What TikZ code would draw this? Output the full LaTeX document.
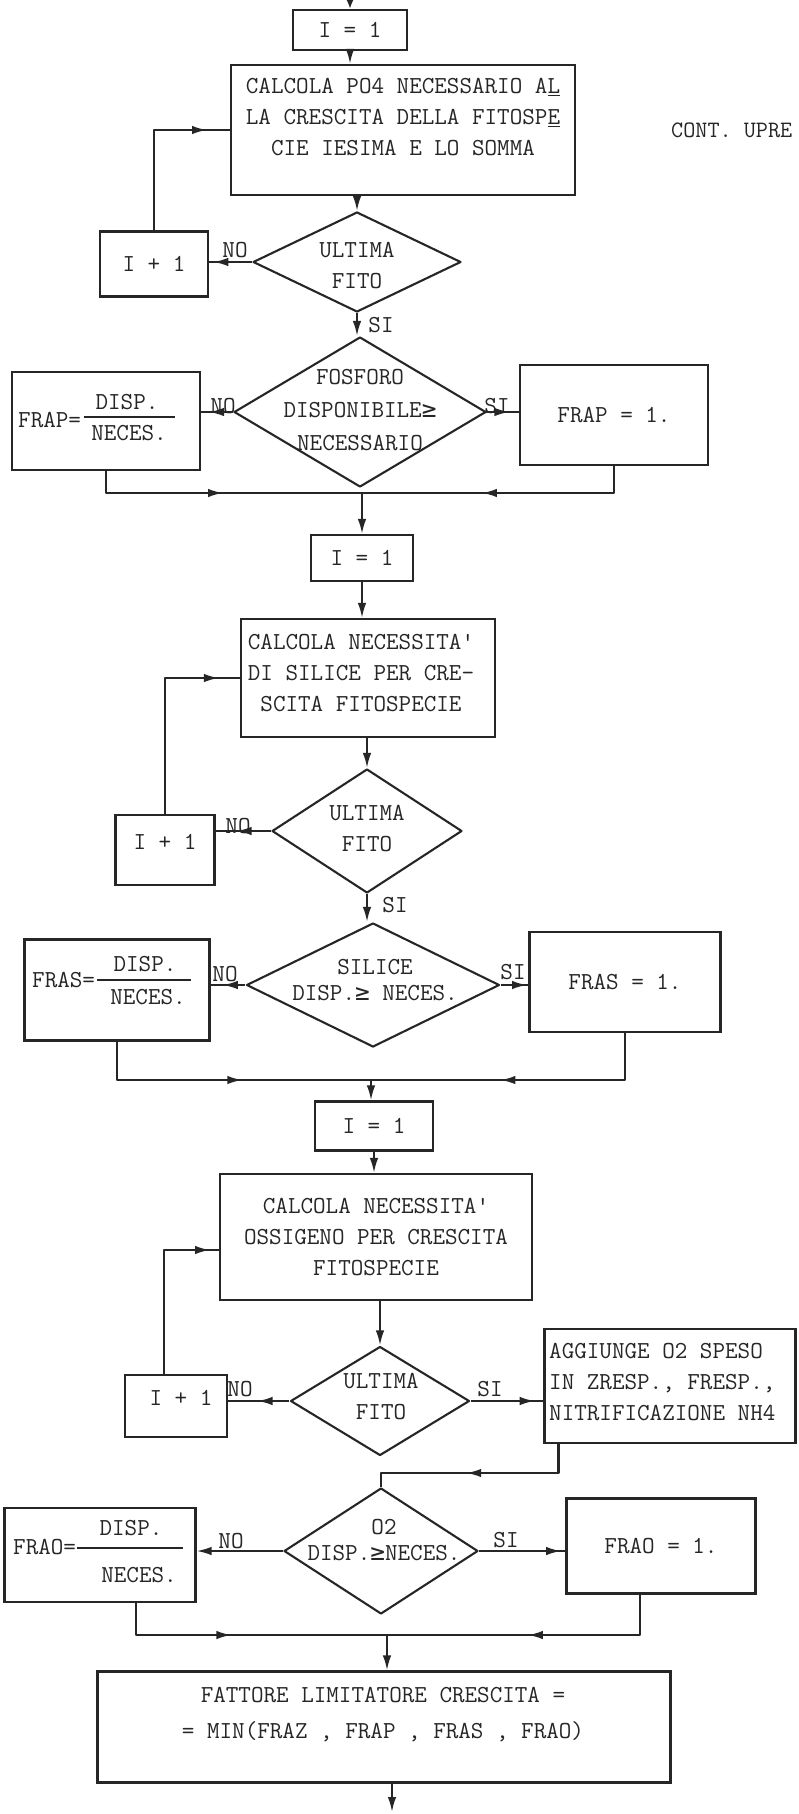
\documentclass[tikz,border=0pt]{standalone}
\usepackage{fontspec}
\newfontfamily\symf{DejaVu Sans Mono}
\usetikzlibrary{shapes.geometric,arrows.meta,decorations.markings,calc}
\newcommand\gesym{{\symf ≥}}
\tikzset{
  ln/.style={draw=black!85, line width=2.1pt},
  boxn/.style={ln, rectangle, inner sep=0pt, align=center, text=black!85},
  dia/.style={ln, diamond, inner sep=0pt, line join=round},
  txt/.style={text=black!85, inner sep=0pt, align=center},
  conn/.style={ln, line join=round},
  arr/.style={conn, -{Latex[length=15pt,width=8.5pt]}},
  smallarr/.style={conn, -{Latex[length=9pt,width=7pt]}},
  marr/.style={conn, postaction={decorate}, decoration={markings, mark=at position #1 with {\arrow{Latex[length=15pt,width=8.5pt]}}}},
}
\begin{document}
\begin{tikzpicture}[x=1pt,y=-1pt, font=\ttfamily\fontsize{24.4}{31}\selectfont]
\fill[white] (0,0) rectangle (798,1814);
\useasboundingbox (0,0) rectangle (798,1814);

% ---------- section 1 : PO4 ----------
\coordinate (top) at (350,0);
\node[boxn, minimum width=114pt, minimum height=40pt] (A1) at (350,30) {I = 1};
\draw[smallarr] (top) -- (A1.north);
\node[boxn, minimum width=344pt, minimum height=130pt] (C1) at (403,130) {};
\node[txt] (C1t) at (403,117) {CALCOLA PO4 NECESSARIO A\underline{L}\\LA CRESCITA DELLA FITOSP\underline{E}\\CIE IESIMA E LO SOMMA};
\draw[arr] (A1.south) -- (A1.south |- C1.north);
\node[txt, anchor=west, font=\ttfamily\fontsize{23.5}{31}\selectfont] (cont) at (671,130) {CONT. UPRE};

\node[dia, minimum width=208pt, minimum height=100pt] (D1) at (357,262) {};
\node[txt] (D1t) at (357,266) {ULTIMA\\FITO};
\draw[arr] (D1.north |- C1.south) -- (D1.north);
\node[boxn, minimum width=108pt, minimum height=65pt] (B1) at (154,264) {I + 1};
\node[txt] (no1) at (235,250) {NO};
\draw[marr=0.87] (B1.north) |- (C1.west);
\draw[marr=0.9] (D1.west) -- (D1.west -| B1.east);

\node[txt] (si1) at (381,325) {SI};
\node[dia, minimum width=252pt, minimum height=150pt] (D2) at (360,412) {};
\draw[arr] (D1.south) -- (D1.south |- D2.north);
\node[txt, font=\ttfamily\fontsize{24.4}{33}\selectfont] (D2t) at (360,410) {FOSFORO\\DISPONIBILE\gesym\\NECESSARIO};

\node[boxn, minimum width=188pt, minimum height=98pt] (F1) at (106,421) {};
\node[txt, anchor=west] (F1a) at (18,420) {FRAP=};
\draw[conn] (84,417) -- (175,417);
\node[txt] (F1n) at (127,402) {DISP.};
\node[txt] (F1d) at (129,433) {NECES.};
\node[txt] (no2) at (223,406) {NO};
\draw[marr=0.75] (D2.west) -- (D2.west -| F1.east);

\node[boxn, minimum width=188pt, minimum height=100pt] (P1) at (614,415) {FRAP = 1.};
\node[txt] (si2) at (497,406) {SI};
\draw[marr=0.7] (D2.east) -- (D2.east -| P1.west);

\coordinate (M1) at (362,493);
\draw[marr=0.5] (F1.south) |- (M1);
\draw[marr=0.57] (P1.south) |- (M1);

% ---------- section 2 : silice ----------
\node[boxn, minimum width=102pt, minimum height=46pt] (A2) at (362,558) {I = 1};
\draw[arr] (M1) -- (A2.north);
\node[boxn, minimum width=254pt, minimum height=118pt] (C2) at (368,678) {};
\node[txt] (C2t) at (361,673) {CALCOLA NECESSITA\textquotesingle\\DI SILICE PER CRE-\\SCITA FITOSPECIE};
\draw[arr] (A2.south) -- (A2.south |- C2.north);

\node[dia, minimum width=190pt, minimum height=124pt] (D3) at (367,831) {};
\node[txt] (D3t) at (367,829) {ULTIMA\\FITO};
\draw[arr] (D3.north |- C2.south) -- (D3.north);
\node[boxn, minimum width=99pt, minimum height=70pt] (B2) at (165,850) {};
\node[txt] (B2t) at (165,842) {I + 1};
\draw[marr=0.9] (B2.north) |- (C2.west);
\node[txt] (no3) at (238,826) {NO};
\draw[marr=0.62] (D3.west) -- (D3.west -| B2.east);

\node[txt] (si3) at (395,905) {SI};
\node[dia, minimum width=253pt, minimum height=124pt] (D4) at (373,985) {};
\draw[arr] (D3.south) -- (D3.south |- D4.north);
\node[txt, font=\ttfamily\fontsize{24.4}{26}\selectfont] (D4t) at (375,980) {SILICE\\DISP.\gesym\ NECES.};

\node[boxn, minimum width=185pt, minimum height=101pt] (F2) at (117,990) {};
\node[txt, anchor=west] (F2a) at (32,980) {FRAS=};
\draw[conn] (97,980) -- (191,980);
\node[txt] (F2n) at (145,964) {DISP.};
\node[txt] (F2d) at (148,997) {NECES.};
\node[txt] (no4) at (225,974) {NO};
\draw[marr=0.65] (D4.west) -- (D4.west -| F2.east);

\node[boxn, minimum width=191pt, minimum height=100pt] (P2) at (625,982) {FRAS = 1.};
\node[txt] (si4) at (513,972) {SI};
\draw[marr=0.95] (D4.east) -- (D4.east -| P2.west);

\coordinate (M2) at (371,1080);
\draw[marr=0.56] (F2.south) |- (M2);
\draw[marr=0.57] (P2.south) |- (M2);

% ---------- section 3 : ossigeno ----------
\node[boxn, minimum width=118pt, minimum height=49pt] (A3) at (374,1126) {I = 1};
\draw[arr] (M2) -- (M2 |- A3.north);
\node[boxn, minimum width=312pt, minimum height=126pt] (C3) at (376,1237) {CALCOLA NECESSITA\textquotesingle\\OSSIGENO PER CRESCITA\\FITOSPECIE};
\draw[arr] (A3.south) -- (A3.south |- C3.north);

\node[dia, minimum width=179pt, minimum height=109pt] (D5) at (380,1401) {};
\node[txt] (D5t) at (381,1397) {ULTIMA\\FITO};
\draw[arr] (D5.north |- C3.south) -- (D5.north);
\node[boxn, minimum width=102pt, minimum height=62pt] (B3) at (176,1406) {};
\node[txt] (B3t) at (181,1398) {I + 1};
\draw[marr=0.95] ([xshift=-12pt]B3.north) |- ([yshift=-13pt]C3.west);
\node[txt] (no5) at (240,1389) {NO};
\draw[marr=0.52] (D5.west) -- (D5.west -| B3.east);

\node[boxn, minimum width=251pt, minimum height=114pt] (G) at (670,1386) {};
\node[txt, anchor=west, align=left] (Gt) at (549,1382) {AGGIUNGE O2 SPESO\\IN ZRESP., FRESP.,\\NITRIFICAZIONE NH4};
\node[txt] (si5) at (490,1389) {SI};
\draw[marr=0.88] (D5.east) -- (D5.east -| G.west);

\coordinate (K) at (381,1473);
\node[dia, minimum width=194pt, minimum height=126pt] (D6) at (381,1551) {};
\draw[marr=0.55] ([xshift=15pt]G.south west) |- (K) -- (D6.north);
\node[txt, font=\ttfamily\fontsize{24.4}{26}\selectfont] (D6t) at (384,1540) {O2\\DISP.\gesym NECES.};

\node[boxn, minimum width=191pt, minimum height=94pt] (F3) at (100,1555) {};
\node[txt, anchor=west] (F3a) at (13,1547) {FRAO=};
\draw[conn] (77,1548) -- (183,1548);
\node[txt] (F3n) at (131,1528) {DISP.};
\node[txt] (F3d) at (139,1575) {NECES.};
\node[txt] (no6) at (231,1541) {NO};
\draw[arr] (D6.west) -- (D6.west -| F3.east);

\node[boxn, minimum width=189pt, minimum height=95pt] (P3) at (661,1546) {FRAO = 1.};
\node[txt] (si6) at (506,1540) {SI};
\draw[marr=0.95] (D6.east) -- (D6.east -| P3.west);

\coordinate (M3) at (387,1635);
\draw[marr=0.45] ([xshift=36pt]F3.south) |- (M3);
\draw[marr=0.52] ([xshift=-21pt]P3.south) |- (M3);

\node[boxn, minimum width=573pt, minimum height=111pt] (Z) at (384,1727) {};
\node[txt, font=\ttfamily\fontsize{24.4}{36}\selectfont] (Zt) at (383,1715) {FATTORE LIMITATORE CRESCITA =\\= MIN(FRAZ , FRAP , FRAS , FRAO)};
\draw[arr] (M3) -- (M3 |- Z.north);
\coordinate (bot) at (392,1812);
\draw[arr] ([xshift=8pt]Z.south) -- (bot);
\end{tikzpicture}
\end{document}
